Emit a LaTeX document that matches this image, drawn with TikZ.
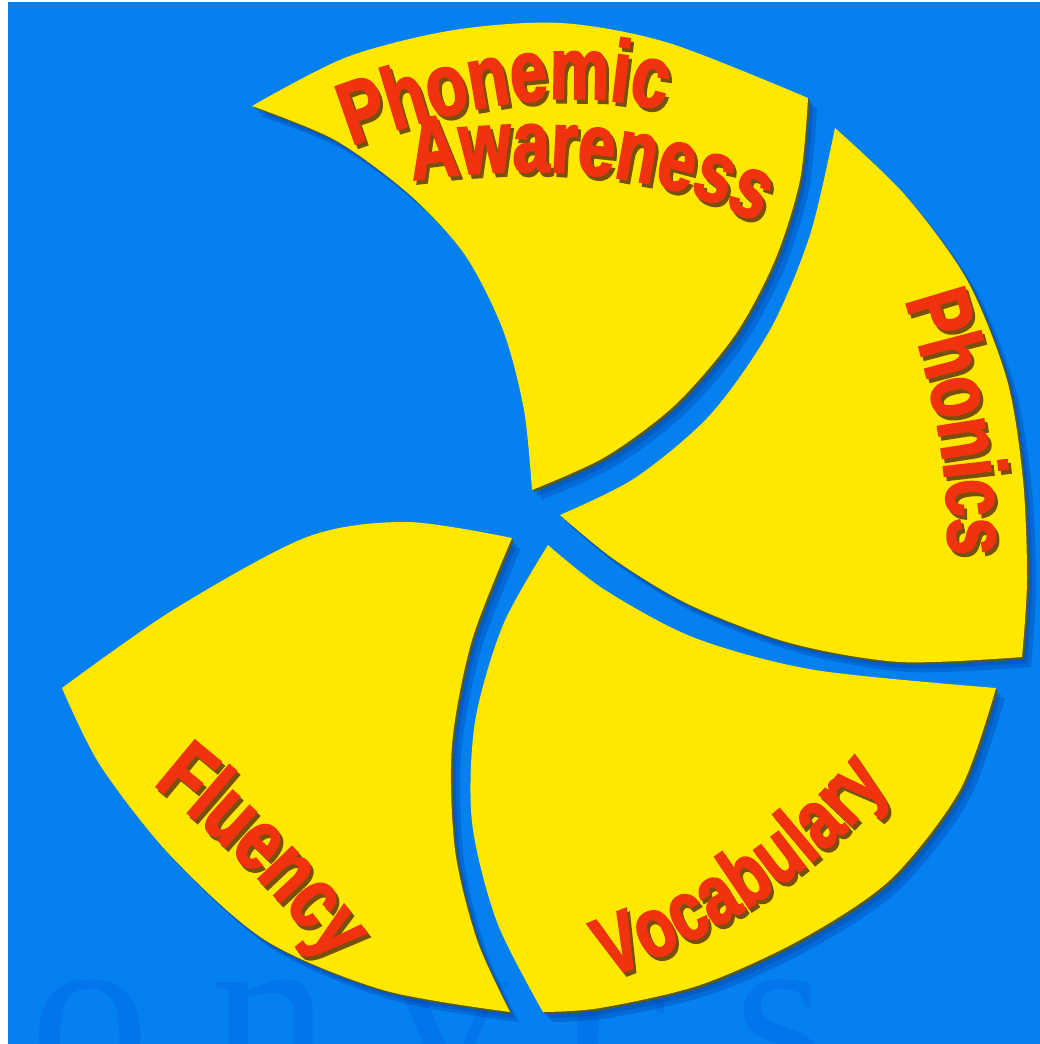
\documentclass[tikz,border=0pt]{standalone}
\usepackage{fontspec}
\usetikzlibrary{decorations.text}
\newfontfamily\bladefont[FakeStretch=0.76, FakeBold=2.2]{Liberation Sans}
\newfontfamily\markfont[LetterSpace=25]{Liberation Serif}
\definecolor{bgblue}{RGB}{5,128,240}
\definecolor{bladeyellow}{RGB}{255,232,0}
\definecolor{lblred}{RGB}{240,50,15}
\definecolor{lblshade}{RGB}{120,80,10}
\definecolor{shadowblue}{RGB}{0,60,160}
\definecolor{rimolive}{RGB}{90,90,20}
\definecolor{markblue}{RGB}{2,117,234}

% the four blades, in pixel units
\newcommand{\bladephonemic}{plot[smooth] coordinates {(252,106) (347,57) (454,30) (561,23) (669,43) (808,98)}
  -- plot[smooth] coordinates {(808,98) (800,180) (775,260) (735,335) (675,405) (605,457) (532,490)}
  -- plot[smooth] coordinates {(532,490) (524,410) (503,330) (465,255) (410,195) (335,140) (252,106)} -- cycle}
\newcommand{\bladephonics}{plot[smooth] coordinates {(835,128) (905,195) (967,280) (1007,380) (1023,480) (1027,580) (1022,657)}
  -- plot[smooth] coordinates {(1022,657) (900,662) (790,643) (690,605) (615,560) (560,515)}
  -- plot[smooth] coordinates {(560,515) (635,478) (710,415) (770,330) (810,235) (835,128)} -- cycle}
\newcommand{\bladevocab}{plot[smooth] coordinates {(548,545) (605,590) (695,638) (815,670) (996,688)}
  -- plot[smooth] coordinates {(996,688) (960,790) (890,880) (800,940) (700,985) (600,1008) (543,1012)}
  -- plot[smooth] coordinates {(543,1012) (497,922) (472,822) (475,722) (503,625) (548,545)} -- cycle}
\newcommand{\bladefluency}{plot[smooth] coordinates {(62,688) (173,610) (307,537) (407,522) (512,538)}
  -- plot[smooth] coordinates {(512,538) (472,640) (452,745) (455,850) (477,940) (510,1012)}
  -- plot[smooth] coordinates {(510,1012) (383,990) (265,940) (170,855) (100,765) (62,688)} -- cycle}

% label bent along a path, with its shadow
\newcommand{\arclabel}[3]{%
  \path[shift={(3,4)}, decorate, decoration={text along path, text align=center,
    text={|\fontsize{#1}{#1}\selectfont\bladefont\bfseries\color{lblshade}|#3}}] #2;
  \path[decorate, decoration={text along path, text align=center,
    text={|\fontsize{#1}{#1}\selectfont\bladefont\bfseries\color{lblred}|#3}}] #2;}

\begin{document}
\begin{tikzpicture}[x=0.01cm, y=-0.01cm,
  blade/.style={fill=bladeyellow},
  bladeshade/.style={fill=shadowblue, fill opacity=0.3},
  bladerim/.style={fill=rimolive}]
  \useasboundingbox (0,0) rectangle (1040,1044);
  \fill[white] (0,0) rectangle (1040,1044);
  \fill[bgblue] (8,2) rectangle (1040,1044);

  \begin{scope}
    \clip (8,2) rectangle (1040,1044);
    \node[anchor=base west, inner sep=0pt, text=markblue, font=\fontsize{68pt}{68pt}\selectfont\markfont] (mark) at (30,1092) {onvcs};
  \end{scope}

  \foreach \b in {\bladephonemic, \bladephonics, \bladevocab, \bladefluency} {
    \fill[bladeshade, shift={(9,10)}] \b;
    \fill[bladeshade, shift={(5,6)}] \b;
    \fill[bladerim, shift={(2,2)}] \b;
  }
  \foreach \b in {\bladephonemic, \bladephonics, \bladevocab, \bladefluency}
    \fill[blade] \b;

  \arclabel{25pt}{(345,148) .. controls (440,112) and (560,80) .. (670,112)}{Phonemic}
  \arclabel{25pt}{(415,180) .. controls (500,168) and (640,160) .. (755,222)}{Awareness}
  \arclabel{25pt}{(905,300) .. controls (930,380) and (950,460) .. (948,555)}{Phonics}
  \arclabel{24pt}{(595,982) .. controls (680,955) and (820,880) .. (897,772)}{Vocabulary}
  \arclabel{25pt}{(160,790) .. controls (215,835) and (270,885) .. (325,955)}{Fluency}
\end{tikzpicture}
\end{document}
